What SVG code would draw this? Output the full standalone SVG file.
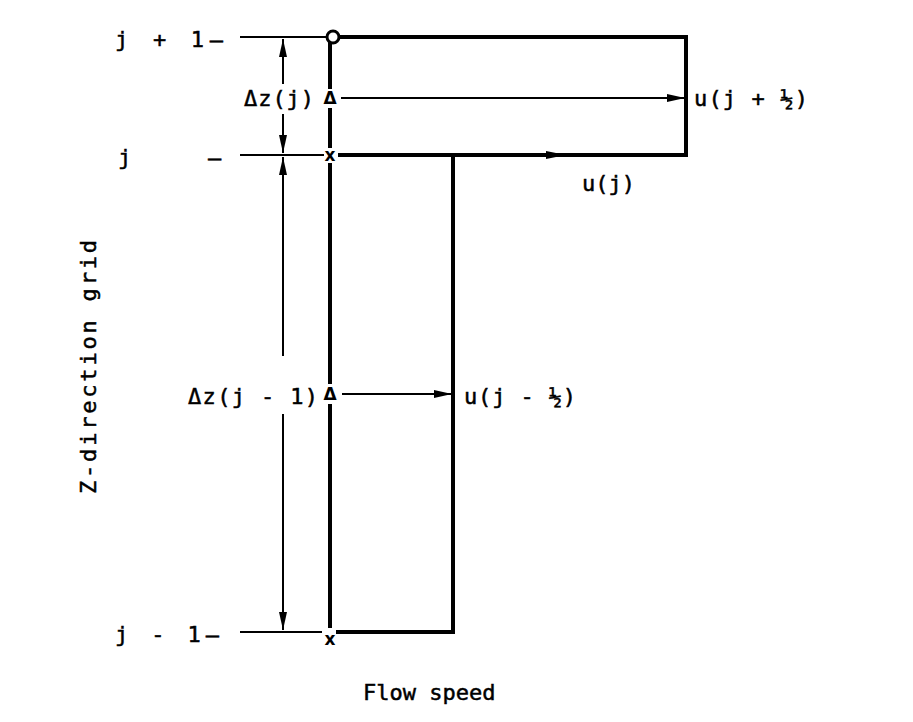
<svg xmlns="http://www.w3.org/2000/svg" width="913" height="722" viewBox="0 0 913 722">
<defs>
<style>
.t{font-family:"DejaVu Sans Mono","Liberation Mono",monospace;font-size:22px;fill:#000;stroke:#000;stroke-width:0.5}
.m{font-family:"DejaVu Sans","Liberation Sans",sans-serif;font-size:17px;font-weight:bold;fill:#000;text-anchor:middle}
.thick{stroke:#000;stroke-width:4;fill:none;stroke-linecap:square}
.thin{stroke:#000;stroke-width:2;fill:none}
</style>
<marker id="ah" markerWidth="18" markerHeight="8" refX="18" refY="4" orient="auto" markerUnits="userSpaceOnUse">
<path d="M0,0 L18,4 L0,8 Z" fill="#000"/>
</marker>
<marker id="as" markerWidth="18" markerHeight="8" refX="0" refY="4" orient="auto" markerUnits="userSpaceOnUse">
<path d="M18,0 L0,4 L18,8 Z" fill="#000"/>
</marker>
</defs>
<rect width="913" height="722" fill="#fff"/>
<g id="grid-labels">
<text class="t" x="115" y="47" textLength="108" lengthAdjust="spacing">j + 1—</text>
<text class="t" x="118" y="165">j</text>
<text class="t" x="208" y="165">—</text>
<text class="t" x="115" y="642" textLength="104" lengthAdjust="spacing">j - 1—</text>
</g>
<g id="reference-lines">
<line class="thin" x1="240" y1="37" x2="326" y2="37"/>
<line class="thin" x1="240" y1="155" x2="324" y2="155"/>
<line class="thin" x1="240" y1="632" x2="322" y2="632"/>
</g>
<g id="dimensions">
<line class="thin" x1="283" y1="39" x2="283" y2="84" marker-start="url(#as)"/>
<line class="thin" x1="283" y1="114" x2="283" y2="153" marker-end="url(#ah)"/>
<line class="thin" x1="283" y1="157" x2="283" y2="356" marker-start="url(#as)"/>
<line class="thin" x1="283" y1="414" x2="283" y2="630" marker-end="url(#ah)"/>
<text class="t" x="244" y="106" textLength="70" lengthAdjust="spacing">Δz(j)</text>
<text class="t" x="188" y="404" textLength="130" lengthAdjust="spacing">Δz(j - 1)</text>
</g>
<g id="upper-cell">
<path class="thick" d="M339,37 L686,37 L686,155 L340,155"/>
<circle cx="333" cy="37" r="6" fill="#fff" stroke="#000" stroke-width="3"/>
</g>
<g id="lower-cell">
<path class="thick" d="M453,157 L453,632 L338,632"/>
</g>
<g id="axis">
<line class="thick" x1="330" y1="44" x2="330" y2="87"/>
<line class="thick" x1="330" y1="110" x2="330" y2="146"/>
<line class="thick" x1="330" y1="165" x2="330" y2="382"/>
<line class="thick" x1="330" y1="406" x2="330" y2="626"/>
<text class="m" x="330" y="104">Δ</text>
<text class="m" x="330" y="400">Δ</text>
<text class="m" x="330" y="161">x</text>
<text class="m" x="330" y="645">x</text>
</g>
<g id="connectors">
<line class="thin" x1="341" y1="98" x2="685" y2="98" marker-end="url(#ah)"/>
<line class="thin" x1="342" y1="394" x2="452" y2="394" marker-end="url(#ah)"/>
<path d="M546,151 L566,155 L546,159 Z" fill="#000"/>
</g>
<g id="flow-labels">
<text class="t" x="694" y="106" textLength="114" lengthAdjust="spacing">u(j + ½)</text>
<text class="t" x="582" y="191">u(j)</text>
<text class="t" x="464" y="404" textLength="112" lengthAdjust="spacing">u(j - ½)</text>
</g>
<g id="axis-titles">
<text class="t" x="363" y="700">Flow speed</text>
<text class="t" transform="translate(96,494) rotate(-90)" x="0" y="0" textLength="254" lengthAdjust="spacing">Z-direction grid</text>
</g>
</svg>
